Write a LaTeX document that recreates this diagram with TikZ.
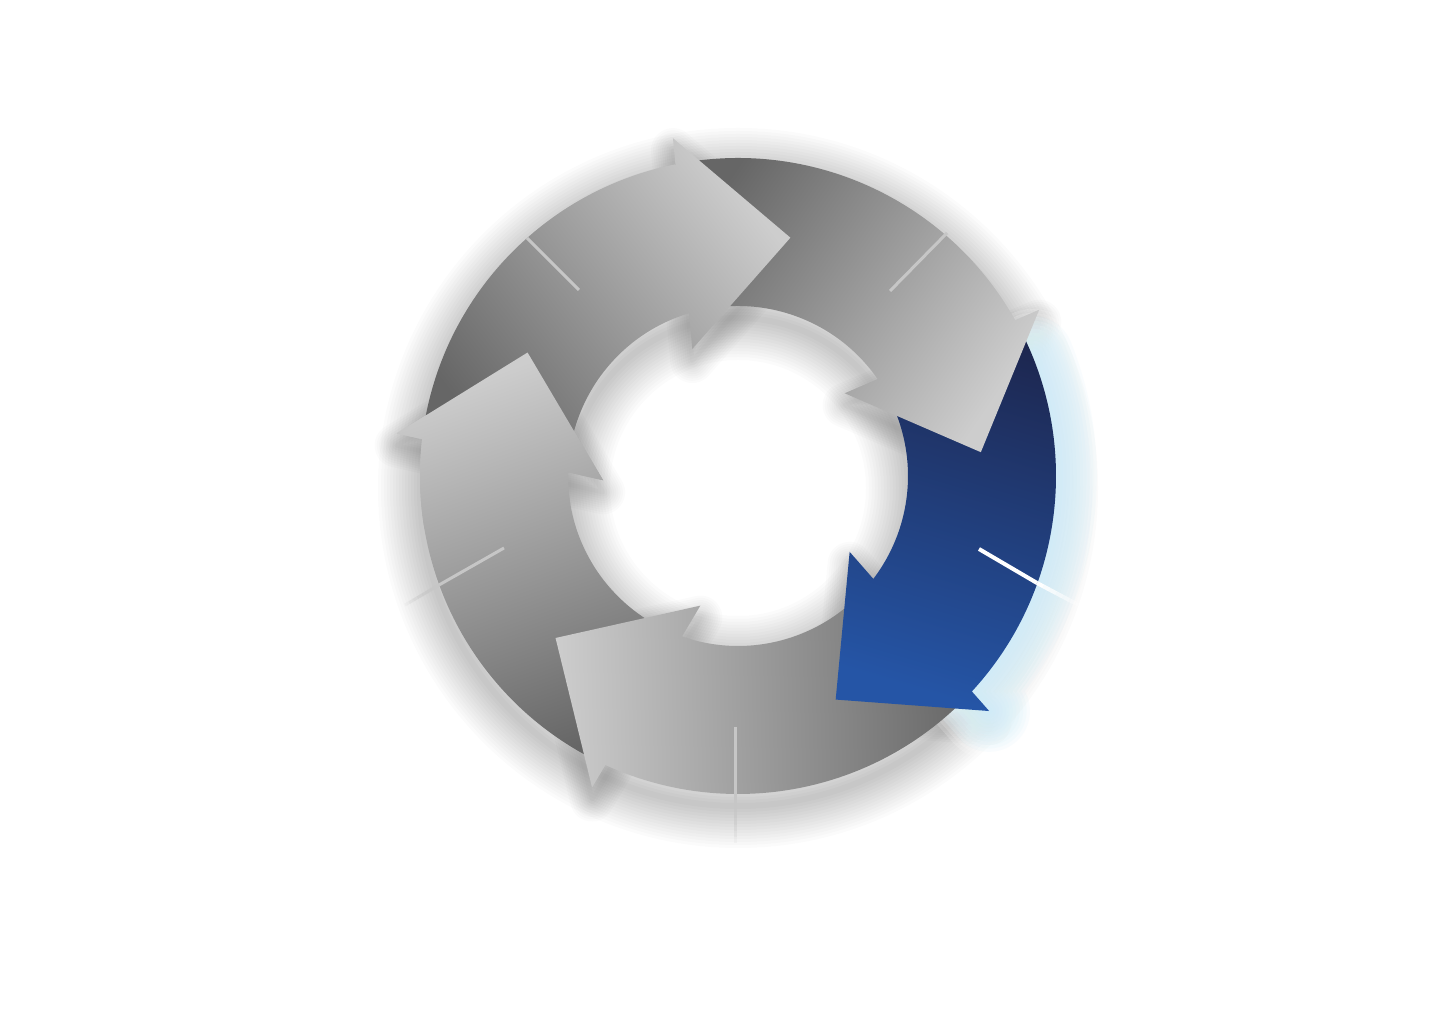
\documentclass[tikz,border=0pt]{standalone}
\usetikzlibrary{calc}
\definecolor{glight}{HTML}{CDCDCD}
\definecolor{gdark}{HTML}{666666}
\definecolor{blight}{HTML}{2555A6}
\definecolor{bdark}{HTML}{1D2750}
\definecolor{glowc}{HTML}{C9EBF7}
\definecolor{tickc}{HTML}{C6C6C6}
% arrow outline, #1 = polar angle of the tip
\newcommand\arrowpath[1]{(#1+95.75:318) arc[start angle=#1+95.75, end angle=#1+23.75, radius=318]
  -- (#1+23.3:344) -- (#1:244) -- (#1+32.2:135) -- (#1+29.15:170)
  arc[start angle=#1+29.15, end angle=#1+101.15, radius=170] -- cycle}
\newcommand\headtri[1]{(#1+23.3:344) -- (#1:244) -- (#1+32.2:135) -- cycle}
\newcommand\ringpath{(0,0) circle[radius=318] (0,0) circle[radius=170]}
\newcommand\headspath{\headtri{77.6} \headtri{5.6} \headtri{-66.4} \headtri{-138.4} \headtri{-210.4}}
\newcommand\glowpath{(22:318) arc[start angle=22, end angle=-42.65, radius=318] -- (-43.1:344)}
\newcommand\fadeseg[4]{%
  \foreach \j in {0,...,7}{%
    \pgfmathsetmacro\opc{1-\j/8}%
    \pgfmathsetmacro\sa{\j/8}%
    \pgfmathsetmacro\sb{(\j+1)/8}%
    \draw[#3, line width=#4, draw opacity=\opc] ($(#1)!\sa!(#2)$) -- ($(#1)!\sb!(#2)$);
  }}
\tikzset{
  grayarrow/.style={top color=glight, bottom color=gdark, shading angle=#1},
  bluearrow/.style={top color=blight, bottom color=bdark, shading angle=#1},
  shadowlayer/.style={black, draw opacity=0.014, line join=round},
  headshadow/.style={black, draw opacity=0.016, line join=round},
  eraselayer/.style={white, draw opacity=0.18, line cap=round, line join=round},
  glowlayer/.style={glowc, draw opacity=0.11, line cap=round, line join=round},
  tickline/.style={tickc, line width=1.5pt},
}
\begin{document}
\begin{tikzpicture}[x=0.5pt,y=0.5pt]
\useasboundingbox (0,0) rectangle (1441,1011);
\fill[white] (0,0) rectangle (1441,1011);
% soft drop shadow
\begin{scope}[shift={(738,523)}]
  \foreach \i in {1,...,14}{\draw[shadowlayer, line width=\i*3pt] \ringpath;}
  \foreach \i in {1,...,10}{\draw[headshadow, line width=\i*2.2pt] \headspath;}
\end{scope}
% glow of the highlighted arrow
\begin{scope}[shift={(738,535)}]
  \foreach \i in {1,...,12}{\draw[eraselayer, line width=\i*4pt] \glowpath;}
  \foreach \i in {1,...,12}{\draw[glowlayer, line width=\i*3.4pt] \glowpath;}
\end{scope}
% arrows
\begin{scope}[shift={(738,535)}]
  \shade[grayarrow=-340.4] \arrowpath{-210.4};
  \shade[grayarrow=-268.4] \arrowpath{-138.4};
  \shade[bluearrow=-196.4] \arrowpath{-66.4};
  \shade[grayarrow=-124.4] \arrowpath{5.6};
  \shade[grayarrow=-52.4] \arrowpath{77.6};
  \begin{scope}
    \clip (0,0) -- (-225.4:450) -- (-200:450) -- (-170.4:450) -- cycle;
    \shade[grayarrow=-340.4] \arrowpath{-210.4};
  \end{scope}
\end{scope}
% leader lines
\coordinate (tl1) at (579,721); \coordinate (tl2) at (527,773);
\coordinate (tr1) at (890,720); \coordinate (tr2) at (947,778);
\coordinate (rb1) at (979,462); \coordinate (rb2) at (1037,428); \coordinate (rb3) at (1088,401);
\coordinate (b1) at (735,284); \coordinate (b2) at (735,217); \coordinate (b3) at (735,168);
\coordinate (lb1) at (504,463); \coordinate (lb2) at (439,426); \coordinate (lb3) at (405,406);
\draw[tickline] (tl1) -- (tl2);
\draw[tickline] (tr1) -- (tr2);
\draw[white, line width=2pt] (rb1) -- (rb2);
\fadeseg{rb2}{rb3}{white}{2pt}
\draw[tickline] (b1) -- (b2);
\fadeseg{b2}{b3}{tickc}{1.5pt}
\draw[tickline] (lb1) -- (lb2);
\fadeseg{lb2}{lb3}{tickc}{1.5pt}
\end{tikzpicture}
\end{document}
